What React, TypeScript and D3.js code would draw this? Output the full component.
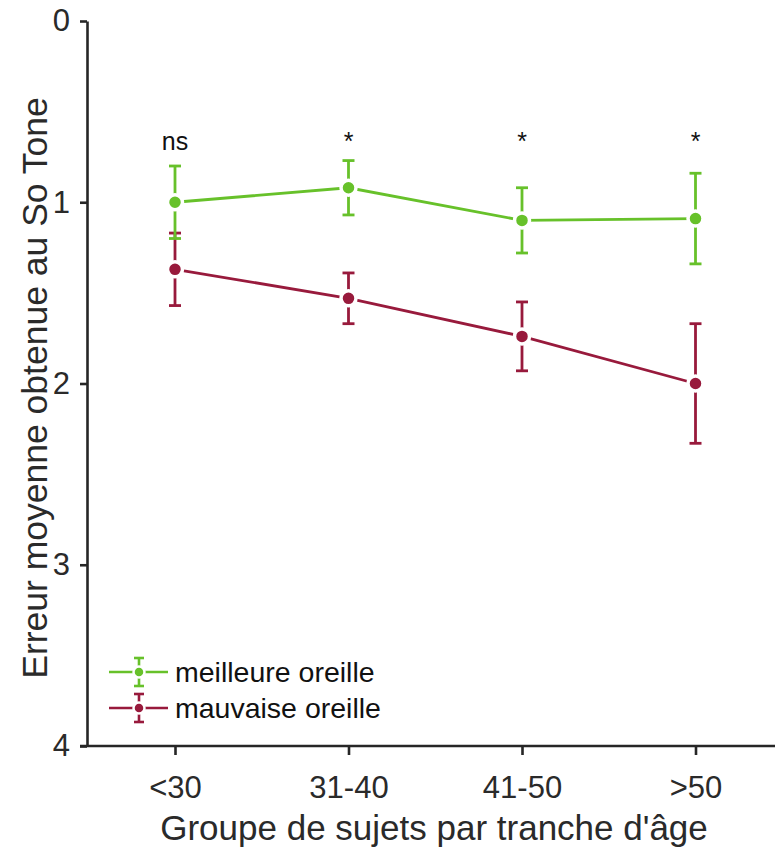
import { useEffect, useRef } from "react";
import * as d3 from "d3";

const groups = ["<30", "31-40", "41-50", ">50"];
const yTicks = [0, 1, 2, 3, 4];

const betterMean = [1.0, 0.92, 1.1, 1.09];
const betterErr = [0.2, 0.15, 0.18, 0.25];
const worseMean = [1.37, 1.53, 1.74, 2.0];
const worseErr = [0.2, 0.14, 0.19, 0.33];
const signif = ["ns", "*", "*", "*"];

const seriesNames = ["meilleure oreille", "mauvaise oreille"];
const GREEN = "#67c12a";
const RED = "#981a3c";
const AXIS = "#262626";
const FONT = "'Liberation Sans', Arial, Helvetica, sans-serif";

const App = () => {
  const svgRef = useRef<SVGSVGElement>(null);

  useEffect(() => {
    const width = 775, height = 848;
    const axisX = 87, axisY = 746, top = 21;

    const svg = d3.select(svgRef.current);
    svg.selectAll("*").remove();
    svg.attr("width", width).attr("height", height);

    const x = d3.scalePoint<string>().domain(groups).range([175, 695.5]);
    const y = d3.scaleLinear().domain([0, 4]).range([top, axisY]);

    // y axis
    const yAxis = svg.append("g")
      .attr("transform", `translate(${axisX},0)`)
      .call(d3.axisLeft(y).tickValues(yTicks).tickFormat(d3.format("d")).tickSize(7).tickPadding(10).tickSizeOuter(0));
    yAxis.select(".domain").attr("stroke", AXIS).attr("stroke-width", 2.6);
    yAxis.selectAll(".tick line").attr("stroke", AXIS).attr("stroke-width", 2.6);
    yAxis.selectAll(".tick text").attr("fill", "#2a2a2a").attr("font-size", 31).attr("font-family", FONT);

    // x axis
    const xAxis = svg.append("g")
      .attr("transform", `translate(0,${axisY})`)
      .call(d3.axisBottom(x).tickSize(9).tickPadding(21).tickSizeOuter(0));
    xAxis.select(".domain").remove();
    xAxis.append("line")
      .attr("x1", axisX - 7).attr("x2", width)
      .attr("stroke", AXIS).attr("stroke-width", 2.6);
    xAxis.selectAll(".tick line").attr("stroke", AXIS).attr("stroke-width", 2.6);
    xAxis.selectAll(".tick text").attr("fill", "#2a2a2a").attr("font-size", 31).attr("font-family", FONT);

    // axis titles
    svg.append("text")
      .attr("x", 434)
      .attr("y", 840)
      .attr("text-anchor", "middle")
      .attr("font-size", 35)
      .attr("font-family", FONT)
      .attr("fill", "#2a2a2a")
      .text("Groupe de sujets par tranche d'âge");

    svg.append("text")
      .attr("transform", `translate(47,388) rotate(-90)`)
      .attr("text-anchor", "middle")
      .attr("font-size", 35.5)
      .attr("font-family", FONT)
      .attr("fill", "#2a2a2a")
      .text("Erreur moyenne obtenue au So Tone");

    // significance labels
    svg.append("g").selectAll("text")
      .data(signif)
      .join("text")
      .attr("x", (d, i) => x(groups[i])!)
      .attr("y", 150)
      .attr("text-anchor", "middle")
      .attr("font-size", 25)
      .attr("font-family", FONT)
      .attr("fill", "#111")
      .text(d => d);

    const series = [
      { name: seriesNames[1], mean: worseMean, err: worseErr, color: RED },
      { name: seriesNames[0], mean: betterMean, err: betterErr, color: GREEN },
    ];

    const line = d3.line<number>()
      .x((d, i) => x(groups[i])!)
      .y(d => y(d));

    series.forEach(s => {
      const g = svg.append("g");
      g.append("path")
        .datum(s.mean)
        .attr("d", line)
        .attr("fill", "none")
        .attr("stroke", s.color)
        .attr("stroke-width", 2.8);

      const bars = g.selectAll(".err")
        .data(s.mean)
        .join("g")
        .attr("transform", (d, i) => `translate(${x(groups[i])},0)`);
      bars.append("line")
        .attr("y1", (d, i) => y(d - s.err[i]))
        .attr("y2", (d, i) => y(d + s.err[i]))
        .attr("stroke", s.color).attr("stroke-width", 2.8);
      bars.append("line")
        .attr("x1", -6).attr("x2", 6)
        .attr("y1", (d, i) => y(d - s.err[i]))
        .attr("y2", (d, i) => y(d - s.err[i]))
        .attr("stroke", s.color).attr("stroke-width", 2.8);
      bars.append("line")
        .attr("x1", -6).attr("x2", 6)
        .attr("y1", (d, i) => y(d + s.err[i]))
        .attr("y2", (d, i) => y(d + s.err[i]))
        .attr("stroke", s.color).attr("stroke-width", 2.8);

      g.selectAll("circle")
        .data(s.mean)
        .join("circle")
        .attr("cx", (d, i) => x(groups[i])!)
        .attr("cy", d => y(d))
        .attr("r", 7.5)
        .attr("fill", s.color)
        .attr("stroke", "white")
        .attr("stroke-width", 3.5);
    });

    // legend
    const legend = svg.append("g");
    const legendItems = [
      { name: seriesNames[0], color: GREEN, cy: 672 },
      { name: seriesNames[1], color: RED, cy: 708 },
    ];
    legendItems.forEach(item => {
      const lg = legend.append("g").attr("transform", `translate(139,${item.cy})`);
      lg.append("line").attr("x1", -30).attr("x2", 29).attr("stroke", item.color).attr("stroke-width", 2.6);
      lg.append("line").attr("y1", -14).attr("y2", 14).attr("stroke", item.color).attr("stroke-width", 2.6);
      lg.append("line").attr("x1", -5).attr("x2", 5).attr("y1", -14).attr("y2", -14).attr("stroke", item.color).attr("stroke-width", 2.6);
      lg.append("line").attr("x1", -5).attr("x2", 5).attr("y1", 14).attr("y2", 14).attr("stroke", item.color).attr("stroke-width", 2.6);
      lg.append("circle").attr("r", 5.5).attr("fill", item.color).attr("stroke", "white").attr("stroke-width", 2.5);
      lg.append("text")
        .attr("x", 36).attr("dy", "0.35em")
        .attr("font-size", 28.5).attr("font-family", FONT).attr("fill", "#111")
        .text(item.name);
    });
  }, []);

  return <svg ref={svgRef} style={{ position: "absolute", left: 0, top: 0 }} />;
};

export default App;
